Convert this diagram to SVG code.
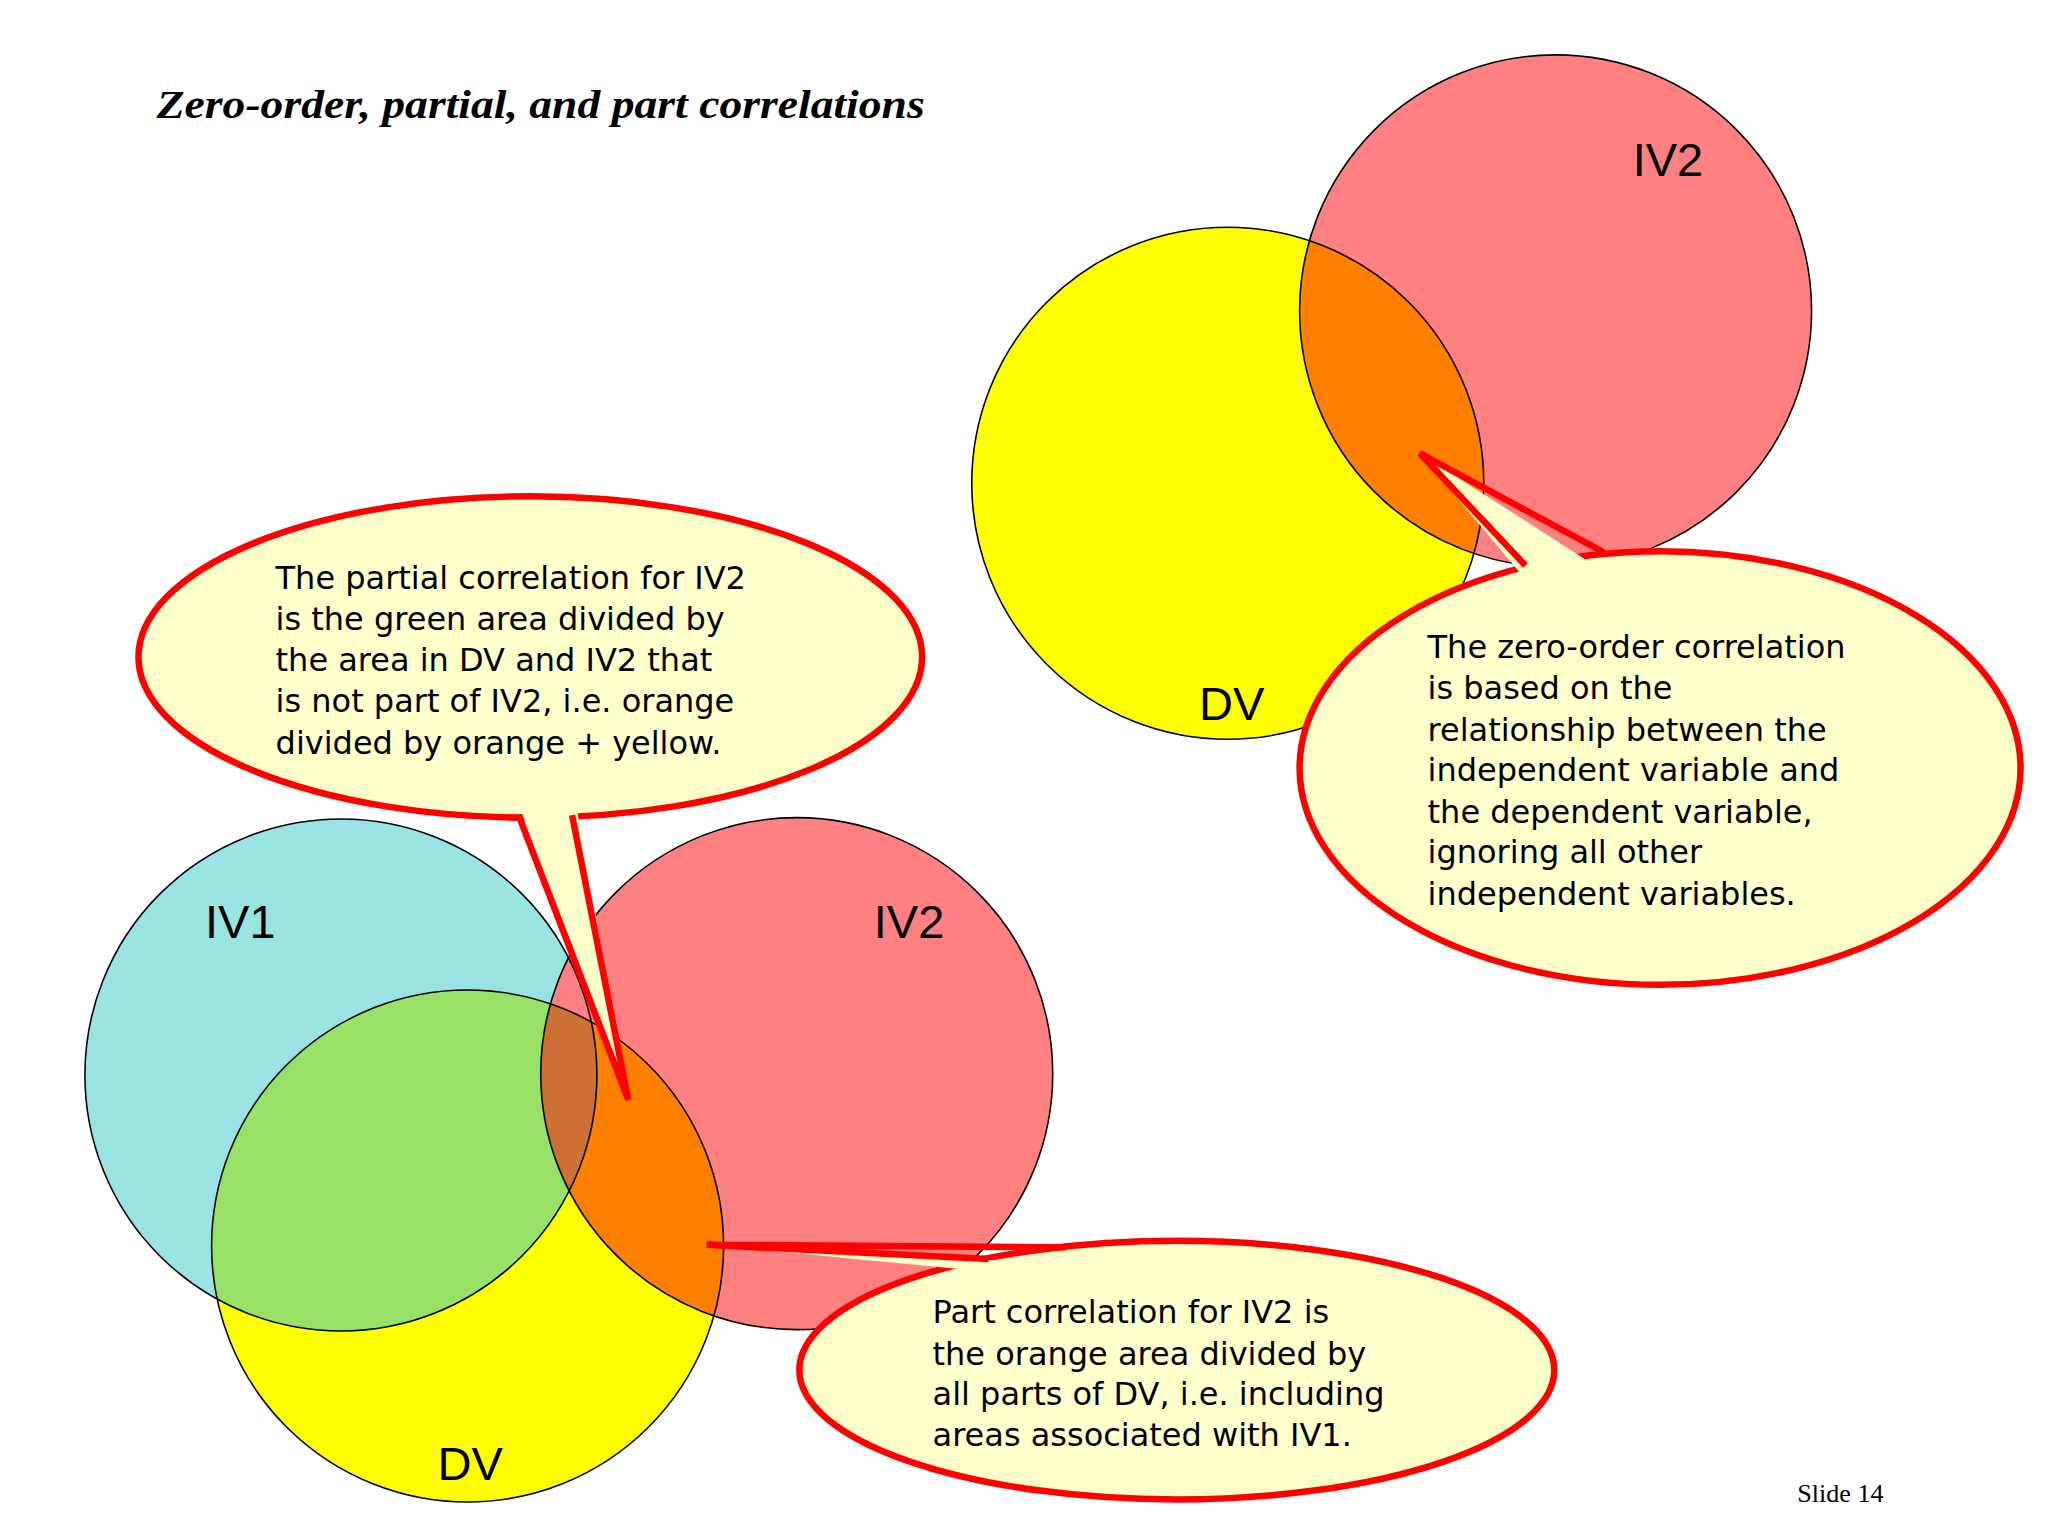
<svg xmlns="http://www.w3.org/2000/svg" width="2048" height="1536" viewBox="0 0 2048 1536">
<style>
.c{stroke:#000;stroke-width:1.2;fill:none}
.lab{font-family:"Liberation Sans",Arial,sans-serif;font-size:36px;fill:#000}
.t{font-family:"DejaVu Sans",Verdana,sans-serif;font-size:24.5px;fill:#000}
.bub{fill:#FFFFCC;stroke:#FF0000;stroke-width:5}
.tail{fill:#FFFFCC;stroke:none}
.tl{fill:none;stroke:#FF0000;stroke-width:5;stroke-linejoin:miter}
</style>
<defs>
<clipPath id="tDV"><circle cx="940" cy="370" r="196"/></clipPath>
<clipPath id="bDV"><circle cx="358" cy="954" r="196"/></clipPath>
<clipPath id="bIV1"><circle cx="261" cy="823" r="196"/></clipPath>
</defs>
<rect width="2048" height="1536" fill="#fff"/>
<g transform="scale(1.30612)">
<text x="120" y="90" font-family="Liberation Serif,serif" font-weight="bold" font-style="italic" font-size="31" textLength="588" lengthAdjust="spacingAndGlyphs">Zero-order, partial, and part correlations</text>
<g id="top-venn">
<circle cx="940" cy="370" r="196" fill="#FFFF00"/>
<circle cx="1191" cy="238" r="196" fill="#FF8080"/>
<circle cx="1191" cy="238" r="196" fill="#FF8000" clip-path="url(#tDV)"/>
<circle class="c" cx="940" cy="370" r="196"/>
<circle class="c" cx="1191" cy="238" r="196"/>
<text class="lab" x="1250" y="135">IV2</text>
<text class="lab" x="918" y="551">DV</text>
</g>
<g id="bottom-venn">
<circle cx="261" cy="823" r="196" fill="#99E3E3"/>
<circle cx="358" cy="954" r="196" fill="#FFFF00"/>
<circle cx="358" cy="954" r="196" fill="#99E066" clip-path="url(#bIV1)"/>
<circle cx="610" cy="822" r="196" fill="#FF8080"/>
<g clip-path="url(#bDV)">
<circle cx="610" cy="822" r="196" fill="#FF8000"/>
<circle cx="610" cy="822" r="196" fill="#CC7033" clip-path="url(#bIV1)"/>
</g>
<circle class="c" cx="261" cy="823" r="196"/>
<circle class="c" cx="358" cy="954" r="196"/>
<circle class="c" cx="610" cy="822" r="196"/>
<text class="lab" x="157" y="718">IV1</text>
<text class="lab" x="669" y="718">IV2</text>
<text class="lab" x="335" y="1133">DV</text>
</g>
<g id="callout-zero">
<ellipse class="bub" cx="1271" cy="588" rx="276" ry="166"/>
<polygon class="tail" points="1165,440 1087,347 1232,440"/>
<polyline class="tl" points="1168,433 1087,347 1228,423"/>
<text class="t"><tspan x="1093" y="504">The zero-order correlation</tspan><tspan x="1093" y="535">is based on the</tspan><tspan x="1093" y="567">relationship between the</tspan><tspan x="1093" y="598">independent variable and</tspan><tspan x="1093" y="630">the dependent variable,</tspan><tspan x="1093" y="661">ignoring all other</tspan><tspan x="1093" y="693">independent variables.</tspan></text>
</g>
<g id="callout-partial">
<ellipse class="bub" cx="406" cy="503" rx="300" ry="123"/>
<polygon class="tail" points="395,610 481,842 440,610"/>
<polyline class="tl" points="397,624 481,842 438,624"/>
<text class="t"><tspan x="211" y="451">The partial correlation for IV2</tspan><tspan x="211" y="482">is the green area divided by</tspan><tspan x="211" y="514">the area in DV and IV2 that</tspan><tspan x="211" y="545">is not part of IV2, i.e. orange</tspan><tspan x="211" y="577">divided by orange + yellow.</tspan></text>
</g>
<g id="callout-part">
<ellipse class="bub" cx="901" cy="1049" rx="289" ry="99"/>
<polygon class="tail" points="770,975 541,953 820,968"/>
<polyline class="tl" points="757,964 541,953 816,955"/>
<text class="t"><tspan x="714" y="1013">Part correlation for IV2 is</tspan><tspan x="714" y="1045">the orange area divided by</tspan><tspan x="714" y="1076">all parts of DV, i.e. including</tspan><tspan x="714" y="1107">areas associated with IV1.</tspan></text>
</g>
<text x="1376" y="1150" font-family="Liberation Serif,serif" font-size="20">Slide 14</text>
</g>
</svg>
